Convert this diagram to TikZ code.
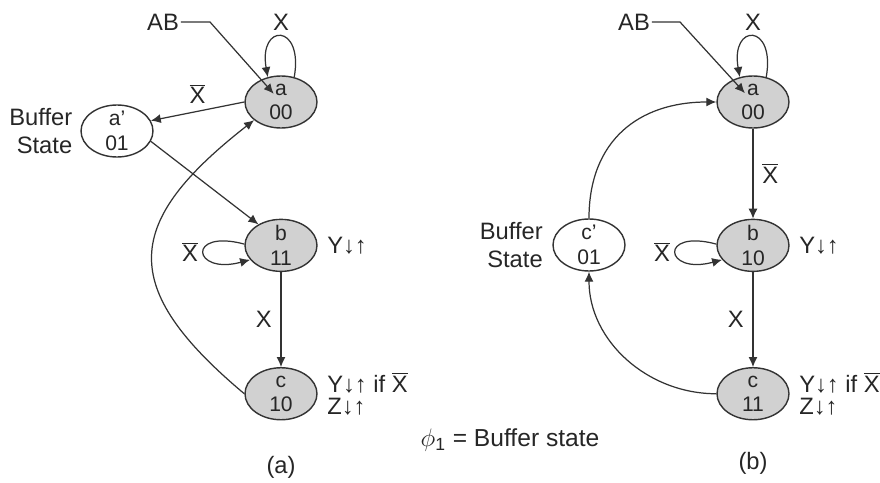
\documentclass[tikz,border=0pt]{standalone}
\usepackage{fontspec}
\setmainfont{Liberation Sans}
\usetikzlibrary{positioning,arrows.meta,shapes.geometric,calc}
\newcommand{\xbar}{$\overline{\mbox{X}}$}

\begin{document}
\begin{tikzpicture}[
    x=0.02cm, y=-0.02cm,
    stnode/.style={draw=black!80, ellipse, line width=0.8pt, text=black!85,
                minimum width=1.44cm, minimum height=1.04cm, inner sep=0pt,
                inner ysep=-3pt, align=center, font=\fontsize{12}{14}\selectfont},
    shaded/.style={stnode, fill=black!18},
    lbl/.style={font=\fontsize{13.5}{15.5}\selectfont, text=black!85, inner sep=1pt},
    arrow/.style={-{Latex[length=2mm,width=1.8mm]}, line width=0.7pt, draw=black!80}
  ]
    \useasboundingbox (0,0) rectangle (880,483);

    % (a): buffer state a'
    \node[shaded] (a) at (281,102) {a\\00};
    \node[shaded, below=1.8cm of a] (b) {b\\11};
    \node[shaded, below=1.9cm of b] (c) {c\\10};
    \node[stnode] (a1) at (117,131) {a'\\01};
    \node[lbl, align=right, left=0.12cm of a1] (buf1) {Buffer\\State};
    \node[lbl, right=0.15cm of b] (yb) {Y↓↑};
    \node[lbl, right=0.15cm of c, align=left,
          font=\fontsize{13.5}{12.5}\selectfont] (yc) {Y↓↑ if \xbar\\Z↓↑};
    \node[lbl] (ab) at (163,22) {AB};
    \coordinate (abk) at (210,22);
    \node[lbl] (capa) at (281,467) {(a)};

    % (b): buffer state c'
    \node[shaded] (a2) at (753,102) {a\\00};
    \node[shaded, below=1.8cm of a2] (b2) {b\\10};
    \node[shaded, below=1.9cm of b2] (c2) {c\\11};
    \node[stnode] (c1) at (589,245) {c'\\01};
    \node[lbl, align=right, left=0.15cm of c1] (buf2) {Buffer\\State};
    \node[lbl, right=0.15cm of b2] (yb2) {Y↓↑};
    \node[lbl, right=0.15cm of c2, align=left,
          font=\fontsize{13.5}{12.5}\selectfont] (yc2) {Y↓↑ if \xbar\\Z↓↑};
    \node[lbl] (ab2) at (634,22) {AB};
    \coordinate (abk2) at (680,22);
    \node[lbl] (capb) at (753,463) {(b)};

    \node[lbl, font=\fontsize{14}{16}\selectfont] (note) at (510,440)
      {$\phi_{\mbox{\fontsize{10}{10}\selectfont 1}}$ = Buffer state};

    % Arrows (a)
    \draw[arrow, shorten >=0.22cm] (ab.east) -- (abk) -- (a.center);
    \draw[arrow] (a.62) .. controls +(80:1.1cm) and +(100:1.1cm) ..
      node[lbl, above=2pt]{X} (a.118);
    \draw[arrow] (a.180) -- node[lbl, above=3pt]{\xbar} (a1.17);
    \draw[arrow] (a1.-17) -- (b.137);
    \draw[arrow] (b.178) .. controls +(165:1.2cm) and +(195:1.2cm) ..
      node[lbl, left=2pt]{\xbar} (b.205);
    \draw[arrow] (b) -- node[lbl, left=4pt]{X} (c);
    \draw[arrow] (c.180) to[out=140, in=218, looseness=1.55] (a.214);

    % Arrows (b)
    \draw[arrow, shorten >=0.24cm] (ab2.east) -- (abk2) -- (a2.center);
    \draw[arrow] (a2.62) .. controls +(80:1.1cm) and +(100:1.1cm) ..
      node[lbl, above=2pt]{X} (a2.118);
    \draw[arrow] (a2) -- node[lbl, right=4pt]{\xbar} (b2);
    \draw[arrow] (b2.178) .. controls +(165:1.2cm) and +(195:1.2cm) ..
      node[lbl, left=2pt]{\xbar} (b2.205);
    \draw[arrow] (b2) -- node[lbl, left=4pt]{X} (c2);
    \draw[arrow] (c2.180) to[out=180, in=270] (c1.south);
    \draw[arrow] (c1.north) to[out=90, in=180, looseness=1.15] (a2.180);
  \end{tikzpicture}
\end{document}
